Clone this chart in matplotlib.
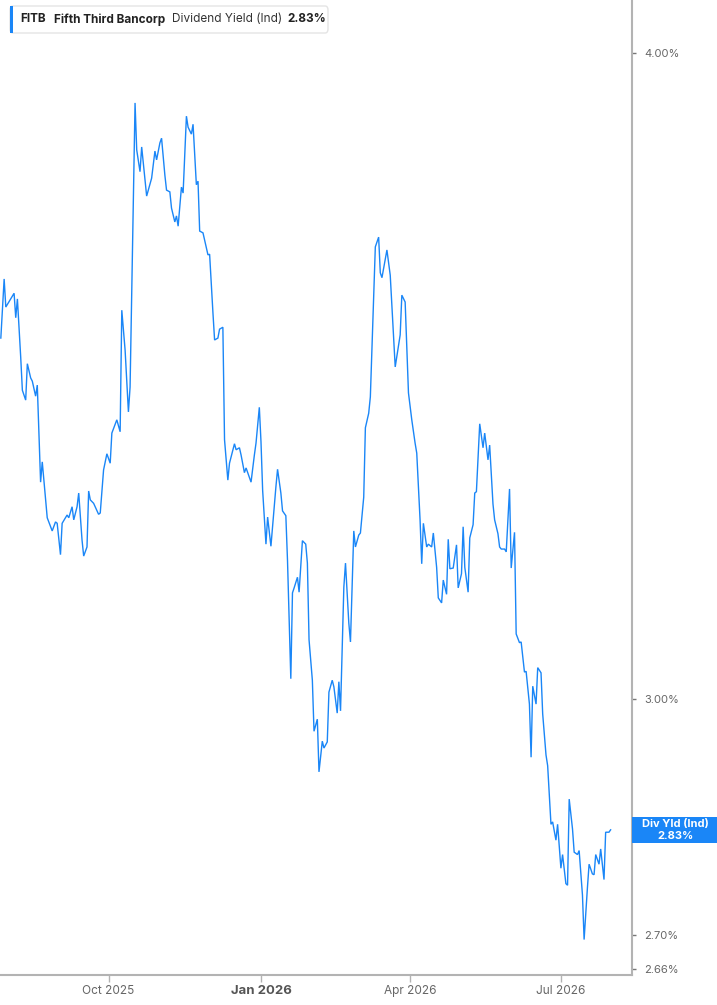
import matplotlib
matplotlib.use("Agg")
import matplotlib.pyplot as plt
import pandas as pd
from matplotlib.patches import FancyBboxPatch, Rectangle
from matplotlib.ticker import NullLocator

# FITB dividend yield (indicated), %
dates = [
    "2025-07-28", "2025-07-30", "2025-07-31", "2025-08-05", "2025-08-06", "2025-08-07",
    "2025-08-09", "2025-08-10", "2025-08-12", "2025-08-13", "2025-08-15", "2025-08-16",
    "2025-08-18", "2025-08-19", "2025-08-21", "2025-08-22", "2025-08-25", "2025-08-28",
    "2025-08-30", "2025-08-31", "2025-09-02", "2025-09-03", "2025-09-06", "2025-09-07",
    "2025-09-09", "2025-09-10", "2025-09-12", "2025-09-13", "2025-09-15", "2025-09-16",
    "2025-09-18", "2025-09-19", "2025-09-20", "2025-09-22", "2025-09-25", "2025-09-26",
    "2025-09-28", "2025-09-30", "2025-10-02", "2025-10-03", "2025-10-06", "2025-10-08",
    "2025-10-09", "2025-10-11", "2025-10-13", "2025-10-14", "2025-10-17", "2025-10-18",
    "2025-10-20", "2025-10-21", "2025-10-24", "2025-10-27", "2025-10-29", "2025-10-30",
    "2025-11-01", "2025-11-02", "2025-11-04", "2025-11-05", "2025-11-07", "2025-11-08",
    "2025-11-10", "2025-11-11", "2025-11-12", "2025-11-14", "2025-11-15", "2025-11-17",
    "2025-11-18", "2025-11-20", "2025-11-21", "2025-11-23", "2025-11-24", "2025-11-25",
    "2025-11-27", "2025-11-28", "2025-11-30", "2025-12-01", "2025-12-03", "2025-12-04",
    "2025-12-06", "2025-12-07", "2025-12-09", "2025-12-10", "2025-12-12", "2025-12-13",
    "2025-12-16", "2025-12-17", "2025-12-19", "2025-12-20", "2025-12-22", "2025-12-23",
    "2025-12-26", "2025-12-28", "2025-12-29", "2025-12-31", "2026-01-01", "2026-01-02",
    "2026-01-04", "2026-01-05", "2026-01-07", "2026-01-10", "2026-01-11", "2026-01-13",
    "2026-01-14", "2026-01-16", "2026-01-17", "2026-01-19", "2026-01-20", "2026-01-21",
    "2026-01-23", "2026-01-24", "2026-01-26", "2026-01-28", "2026-01-29", "2026-01-30",
    "2026-02-01", "2026-02-02", "2026-02-04", "2026-02-05", "2026-02-07", "2026-02-08",
    "2026-02-10", "2026-02-11", "2026-02-13", "2026-02-14", "2026-02-16", "2026-02-17",
    "2026-02-18", "2026-02-20", "2026-02-21", "2026-02-23", "2026-02-24", "2026-02-26",
    "2026-02-27", "2026-03-01", "2026-03-02", "2026-03-04", "2026-03-05", "2026-03-07",
    "2026-03-08", "2026-03-11", "2026-03-13", "2026-03-14", "2026-03-15", "2026-03-18",
    "2026-03-20", "2026-03-23", "2026-03-26", "2026-03-27", "2026-03-29", "2026-03-31",
    "2026-04-02", "2026-04-04", "2026-04-05", "2026-04-07", "2026-04-08", "2026-04-09",
    "2026-04-11", "2026-04-12", "2026-04-14", "2026-04-15", "2026-04-17", "2026-04-18",
    "2026-04-20", "2026-04-21", "2026-04-23", "2026-04-24", "2026-04-25", "2026-04-27",
    "2026-04-29", "2026-04-30", "2026-05-02", "2026-05-03", "2026-05-04", "2026-05-06",
    "2026-05-07", "2026-05-09", "2026-05-10", "2026-05-11", "2026-05-13", "2026-05-15",
    "2026-05-16", "2026-05-18", "2026-05-19", "2026-05-21", "2026-05-22", "2026-05-24",
    "2026-05-25", "2026-05-26", "2026-05-28", "2026-05-29", "2026-05-31", "2026-06-01",
    "2026-06-03", "2026-06-04", "2026-06-06", "2026-06-07", "2026-06-09", "2026-06-10",
    "2026-06-12", "2026-06-13", "2026-06-14", "2026-06-16", "2026-06-17", "2026-06-19",
    "2026-06-20", "2026-06-22", "2026-06-23", "2026-06-25", "2026-06-26", "2026-06-28",
    "2026-06-29", "2026-07-01", "2026-07-02", "2026-07-04", "2026-07-05", "2026-07-06",
    "2026-07-08", "2026-07-09", "2026-07-11", "2026-07-12", "2026-07-14", "2026-07-15",
    "2026-07-17", "2026-07-18", "2026-07-20", "2026-07-21", "2026-07-22", "2026-07-24",
    "2026-07-25", "2026-07-27", "2026-07-28", "2026-07-30", "2026-07-31",
]
div_yield = [
    3.523, 3.617, 3.572, 3.594, 3.555, 3.585, 3.493, 3.442, 3.427, 3.483, 3.461, 3.456,
    3.433, 3.450, 3.304, 3.334, 3.252, 3.233, 3.246, 3.244, 3.199, 3.244, 3.256, 3.252,
    3.268, 3.249, 3.268, 3.288, 3.220, 3.197, 3.210, 3.291, 3.278, 3.273, 3.257, 3.259,
    3.322, 3.346, 3.332, 3.377, 3.397, 3.379, 3.567, 3.504, 3.409, 3.447, 3.912, 3.831,
    3.794, 3.836, 3.753, 3.783, 3.829, 3.814, 3.843, 3.851, 3.788, 3.763, 3.760, 3.733,
    3.710, 3.720, 3.703, 3.768, 3.758, 3.889, 3.870, 3.858, 3.875, 3.772, 3.778, 3.695,
    3.692, 3.680, 3.656, 3.657, 3.563, 3.520, 3.523, 3.537, 3.540, 3.367, 3.307, 3.332,
    3.361, 3.352, 3.355, 3.344, 3.318, 3.325, 3.304, 3.344, 3.362, 3.416, 3.364, 3.292,
    3.214, 3.253, 3.211, 3.297, 3.323, 3.288, 3.262, 3.255, 3.191, 3.027, 3.145, 3.152,
    3.167, 3.146, 3.219, 3.214, 3.187, 3.080, 3.025, 2.957, 2.973, 2.904, 2.944, 2.935,
    2.943, 3.009, 3.025, 3.016, 2.981, 3.023, 2.984, 3.153, 3.187, 3.103, 3.077, 3.233,
    3.210, 3.227, 3.230, 3.282, 3.385, 3.407, 3.432, 3.669, 3.685, 3.627, 3.619, 3.664,
    3.623, 3.478, 3.528, 3.591, 3.580, 3.438, 3.397, 3.362, 3.347, 3.249, 3.186, 3.244,
    3.210, 3.214, 3.210, 3.230, 3.181, 3.138, 3.131, 3.163, 3.143, 3.221, 3.179, 3.180,
    3.213, 3.152, 3.172, 3.239, 3.181, 3.146, 3.223, 3.242, 3.288, 3.290, 3.391, 3.355,
    3.377, 3.337, 3.359, 3.272, 3.249, 3.229, 3.210, 3.207, 3.207, 3.203, 3.294, 3.180,
    3.231, 3.088, 3.076, 3.077, 3.036, 3.037, 2.993, 2.923, 3.017, 2.993, 3.042, 3.035,
    2.980, 2.926, 2.912, 2.837, 2.840, 2.817, 2.837, 2.782, 2.799, 2.763, 2.761, 2.869,
    2.831, 2.802, 2.799, 2.804, 2.749, 2.695, 2.758, 2.787, 2.775, 2.774, 2.799, 2.787,
    2.806, 2.768, 2.827, 2.827, 2.830,
]

y_ticks = [4.00, 3.00, 2.70, 2.66]
x_tick_dates = ["2025-10-01", "2026-01-01", "2026-04-01", "2026-07-01"]
x_tick_labels = ["Oct 2025", "Jan 2026", "Apr 2026", "Jul 2026"]

ticker = "FITB"
company = "Fifth Third Bancorp"
series_name = "Dividend Yield (Ind)"
short_name = "Div Yld (Ind)"

LINE = "#1a86f7"
AXIS = "#b3b3b3"
TICK_TXT = "#666666"
FONT = ["Inter", "DejaVu Sans"]
plt.rcParams["font.family"] = FONT

W, H = 717, 1005
fig = plt.figure(figsize=(W / 100, H / 100), dpi=100)
ax = fig.add_axes([0, 30 / H, 632 / W, 975 / H])

x = pd.to_datetime(dates)
ax.plot(x, div_yield, color=LINE, lw=1.0, solid_joinstyle="miter")

# log scale y axis, limits matched to the reference frame
ax.set_yscale("log")
ax.set_ylim(2.6528, 4.0955)
jan = pd.Timestamp("2026-01-01")
ax.set_xlim(jan - pd.Timedelta(days=157.5), jan + pd.Timedelta(days=223.9))

ax.yaxis.set_minor_locator(NullLocator())
ax.set_yticks(y_ticks)
ax.set_yticklabels([f"{v:.2f}%" for v in y_ticks])
ax.yaxis.tick_right()
ax.tick_params(axis="y", length=3, width=1, color="#777777", pad=6,
               labelsize=8, labelcolor=TICK_TXT)

ax.set_xticks(pd.to_datetime(x_tick_dates))
ax.set_xticklabels(x_tick_labels)
ax.tick_params(axis="x", length=5, width=1, color=AXIS, pad=2,
               labelsize=8.5, labelcolor=TICK_TXT)
for lbl in ax.get_xticklabels():
    if lbl.get_text().startswith("Jan"):
        lbl.set_fontweight("bold")
        lbl.set_fontsize(9.5)
        lbl.set_color("#555555")

for side in ["left", "top"]:
    ax.spines[side].set_visible(False)
for side in ["right", "bottom"]:
    ax.spines[side].set_color(AXIS)
    ax.spines[side].set_linewidth(1.5)


def fx(px):
    return px / W


def fy(py):
    return 1 - py / H


# header legend box
box = FancyBboxPatch((fx(10), fy(33)), fx(318), 27 / H,
                     boxstyle="round,pad=0,rounding_size=0.004",
                     transform=fig.transFigure, facecolor="white",
                     edgecolor="#e4e4e4", lw=1, zorder=5)
fig.patches.append(box)
fig.patches.append(Rectangle((fx(10), fy(33)), fx(3), 27 / H, transform=fig.transFigure,
                             facecolor=LINE, edgecolor="none", zorder=6))
yc = fy(19.5)
fig.text(fx(20), yc, ticker, fontsize=8.5, fontweight="bold", color="#222222",
         va="center", zorder=8)
fig.text(fx(54), yc, company, fontsize=8.5, fontweight="bold", color="#222222",
         va="center", zorder=8)
fig.text(fx(172), yc, series_name, fontsize=8.5, color="#333333", va="center", zorder=8)
fig.text(fx(287), yc, f"{div_yield[-1]:.2f}%", fontsize=8.5, fontweight="bold",
         color="#222222", va="center", zorder=8)

# last value tag on the right axis
fig.canvas.draw()
ypix = ax.transData.transform((ax.get_xlim()[1], div_yield[-1]))[1]
tag_h = 26
fig.patches.append(Rectangle((fx(632), (ypix - tag_h / 2) / H), fx(W - 632), tag_h / H,
                             transform=fig.transFigure, facecolor=LINE,
                             edgecolor="none", zorder=6))
fig.text(fx(675), (ypix + 6) / H, short_name, fontsize=8, fontweight="bold",
         color="white", ha="center", va="center", zorder=8)
fig.text(fx(675), (ypix - 6) / H, f"{div_yield[-1]:.2f}%", fontsize=8, fontweight="bold",
         color="white", ha="center", va="center", zorder=8)

fig.savefig("out.png", dpi=100)
